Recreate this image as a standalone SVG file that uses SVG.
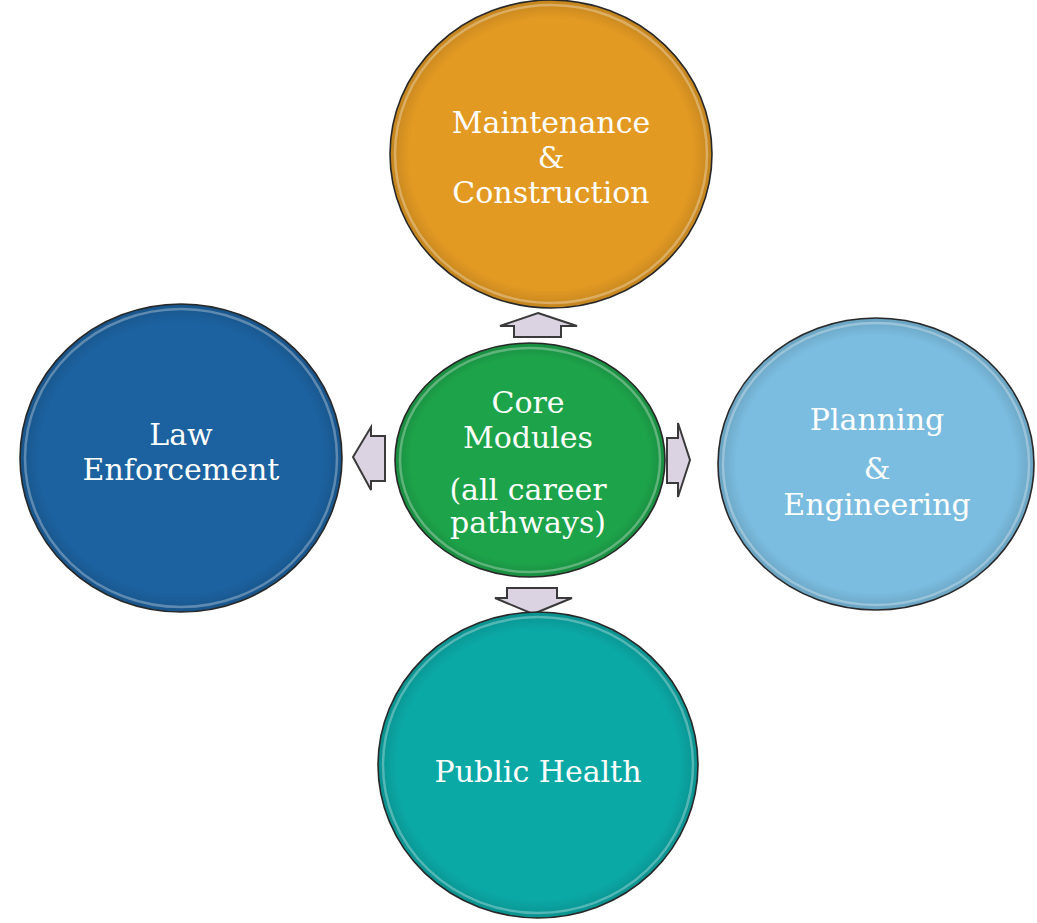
<svg xmlns="http://www.w3.org/2000/svg" width="1037" height="923" viewBox="0 0 1037 923">
<style>
.lbl{font-family:"DejaVu Serif","Liberation Serif",serif;font-size:30px;fill:#ffffff;text-anchor:middle}
.ring{stroke:#2b2b2b;stroke-width:1.6}
.hl{fill:none;stroke:#ffffff;stroke-opacity:0.3;stroke-width:2.5}
.arrow{fill:#dcd3e2;stroke:#3a3a3a;stroke-width:2;stroke-linejoin:miter}
</style>
<defs>
<radialGradient id="shade" cx="50%" cy="50%" r="50%">
<stop offset="0.88" stop-color="#000" stop-opacity="0"/>
<stop offset="1" stop-color="#000" stop-opacity="0.14"/>
</radialGradient>
</defs>
<rect width="1037" height="923" fill="#ffffff"/>
<g id="connectors">
<polygon class="arrow" points="538,313 577,326 561,326 561,337 514,337 514,326 500,326"/>
<polygon class="arrow" points="353,457 371,427 371,436 385,436 385,481 371,481 371,490"/>
<polygon class="arrow" points="690,460 678,423 678,438 667,438 667,483 678,483 678,497"/>
<polygon class="arrow" points="533,614 572,598 557,598 557,588 507,588 507,598 495,598"/>
</g>
<g id="maintenance">
<ellipse class="ring" cx="551" cy="154" rx="161" ry="154" fill="#E39A23"/>
<ellipse cx="551" cy="154" rx="161" ry="154" fill="url(#shade)"/>
<ellipse class="hl" cx="551" cy="154" rx="156" ry="149"/>
<text class="lbl" x="551" y="133">Maintenance</text>
<text class="lbl" x="551" y="168">&amp;</text>
<text class="lbl" x="551" y="203">Construction</text>
</g>
<g id="law">
<ellipse class="ring" cx="181" cy="458" rx="161" ry="154" fill="#1C62A0"/>
<ellipse cx="181" cy="458" rx="161" ry="154" fill="url(#shade)"/>
<ellipse class="hl" cx="181" cy="458" rx="156" ry="149"/>
<text class="lbl" x="181" y="445">Law</text>
<text class="lbl" x="181" y="480">Enforcement</text>
</g>
<g id="planning">
<ellipse class="ring" cx="876" cy="464" rx="158" ry="146" fill="#7BBDE0"/>
<ellipse cx="876" cy="464" rx="158" ry="146" fill="url(#shade)"/>
<ellipse class="hl" cx="876" cy="464" rx="153" ry="141"/>
<text class="lbl" x="877" y="430">Planning</text>
<text class="lbl" x="877" y="479">&amp;</text>
<text class="lbl" x="877" y="515">Engineering</text>
</g>
<g id="health">
<ellipse class="ring" cx="538" cy="765" rx="160" ry="153" fill="#0BA9A6"/>
<ellipse cx="538" cy="765" rx="160" ry="153" fill="url(#shade)"/>
<ellipse class="hl" cx="538" cy="765" rx="155" ry="148"/>
<text class="lbl" x="538" y="782">Public Health</text>
</g>
<g id="core">
<ellipse class="ring" cx="530" cy="460" rx="135" ry="117" fill="#1DA34A"/>
<ellipse cx="530" cy="460" rx="135" ry="117" fill="url(#shade)"/>
<ellipse class="hl" cx="530" cy="460" rx="130" ry="112"/>
<text class="lbl" x="528" y="413">Core</text>
<text class="lbl" x="528" y="448">Modules</text>
<text class="lbl" x="528" y="500">(all career</text>
<text class="lbl" x="528" y="533">pathways)</text>
</g>
</svg>
